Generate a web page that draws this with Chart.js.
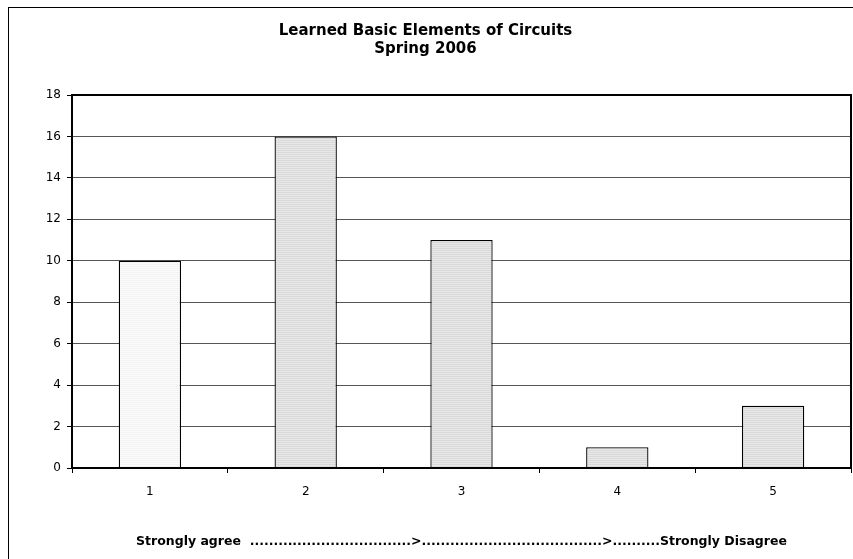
<!DOCTYPE html>
<html>
<head>
<meta charset="utf-8">
<script src="https://cdn.jsdelivr.net/npm/chart.js@4/dist/chart.umd.min.js"></script>
<style>
  html, body { margin: 0; padding: 0; background: #fff; }
  #wrap { width: 853px; height: 559px; }
</style>
</head>
<body>
<div id="wrap"><canvas id="chart" width="853" height="559"></canvas></div>
<script>
// Survey responses (1 = strongly agree ... 5 = strongly disagree)
const categories = ['1', '2', '3', '4', '5'];
const counts = [10, 16, 11, 1, 3];
const yTicks = [0, 2, 4, 6, 8, 10, 12, 14, 16, 18];

const titleLines = ['Learned Basic Elements of Circuits', 'Spring 2006'];
const xTitle = 'Strongly agree  ..................................>......................................>..........Strongly Disagree';

// striped fill like the old spreadsheet pattern
const makeStripes = (light, dark) => {
    const c = document.createElement('canvas');
    c.width = 4; c.height = 4;
    const g = c.getContext('2d');
    g.fillStyle = light; g.fillRect(0, 0, 4, 4);
    g.fillStyle = dark; g.fillRect(0, 0, 4, 1); g.fillRect(0, 2, 4, 1);
    return document.getElementById('chart').getContext('2d').createPattern(c, 'repeat');
};
const paleFill = makeStripes('#fbfbfb', '#f3f3f3');
const greyFill = makeStripes('#e8e8e8', '#d9d9d9');

// outer frame + plot box
const framePlugin = {
    id: 'frame',
    beforeDraw(chart) {
        const { ctx } = chart;
        ctx.save();
        ctx.strokeStyle = '#000';
        ctx.lineWidth = 1;
        ctx.strokeRect(8.5, 7.5, 870, 570);
        ctx.restore();
    },
    afterDatasetsDraw(chart) {
        const { ctx, chartArea: a } = chart;
        ctx.save();
        ctx.strokeStyle = '#000';
        ctx.lineWidth = 2;
        ctx.strokeRect(a.left, a.top, a.right - a.left, a.bottom - a.top);
        ctx.restore();
    }
};

new Chart(document.getElementById('chart'), {
    type: 'bar',
    data: {
        labels: categories,
        datasets: [{
            data: counts,
            backgroundColor: counts.map((v, i) => i === 0 ? paleFill : greyFill),
            borderColor: '#000',
            borderWidth: 1.3,
            barPercentage: 0.4,
            categoryPercentage: 1
        }]
    },
    options: {
        responsive: false,
        animation: false,
        layout: { padding: { left: 0, right: 2, top: 0, bottom: 0 } },
        plugins: {
            legend: { display: false },
            tooltip: { enabled: false },
            title: {
                display: true,
                text: titleLines,
                color: '#000',
                font: { family: 'DejaVu Sans', size: 15, weight: 'bold', lineHeight: 1.2 },
                padding: { top: 22, bottom: 37 }
            }
        },
        scales: {
            x: {
                grid: { drawOnChartArea: false, drawTicks: true, tickLength: 5, color: '#000', offset: true },
                border: { display: true, color: '#000', width: 2 },
                ticks: { color: '#000', padding: 12, font: { family: 'DejaVu Sans', size: 12 } },
                title: {
                    display: true,
                    text: xTitle,
                    color: '#000',
                    font: { family: 'DejaVu Sans', size: 12.5, weight: 'bold' },
                    padding: { top: 0, bottom: 10 }
                },
                afterFit(scale) { scale.height = 91; }
            },
            y: {
                min: 0,
                max: 18,
                afterBuildTicks(scale) { scale.ticks = yTicks.map(v => ({ value: v })); },
                grid: { color: '#555', lineWidth: 1, tickLength: 5, tickColor: '#000' },
                border: { display: true, color: '#000', width: 2 },
                ticks: { color: '#000', padding: 6, font: { family: 'DejaVu Sans', size: 12 } },
                afterFit(scale) { scale.width = 72; }
            }
        }
    },
    plugins: [framePlugin]
});
</script>
</body>
</html>
